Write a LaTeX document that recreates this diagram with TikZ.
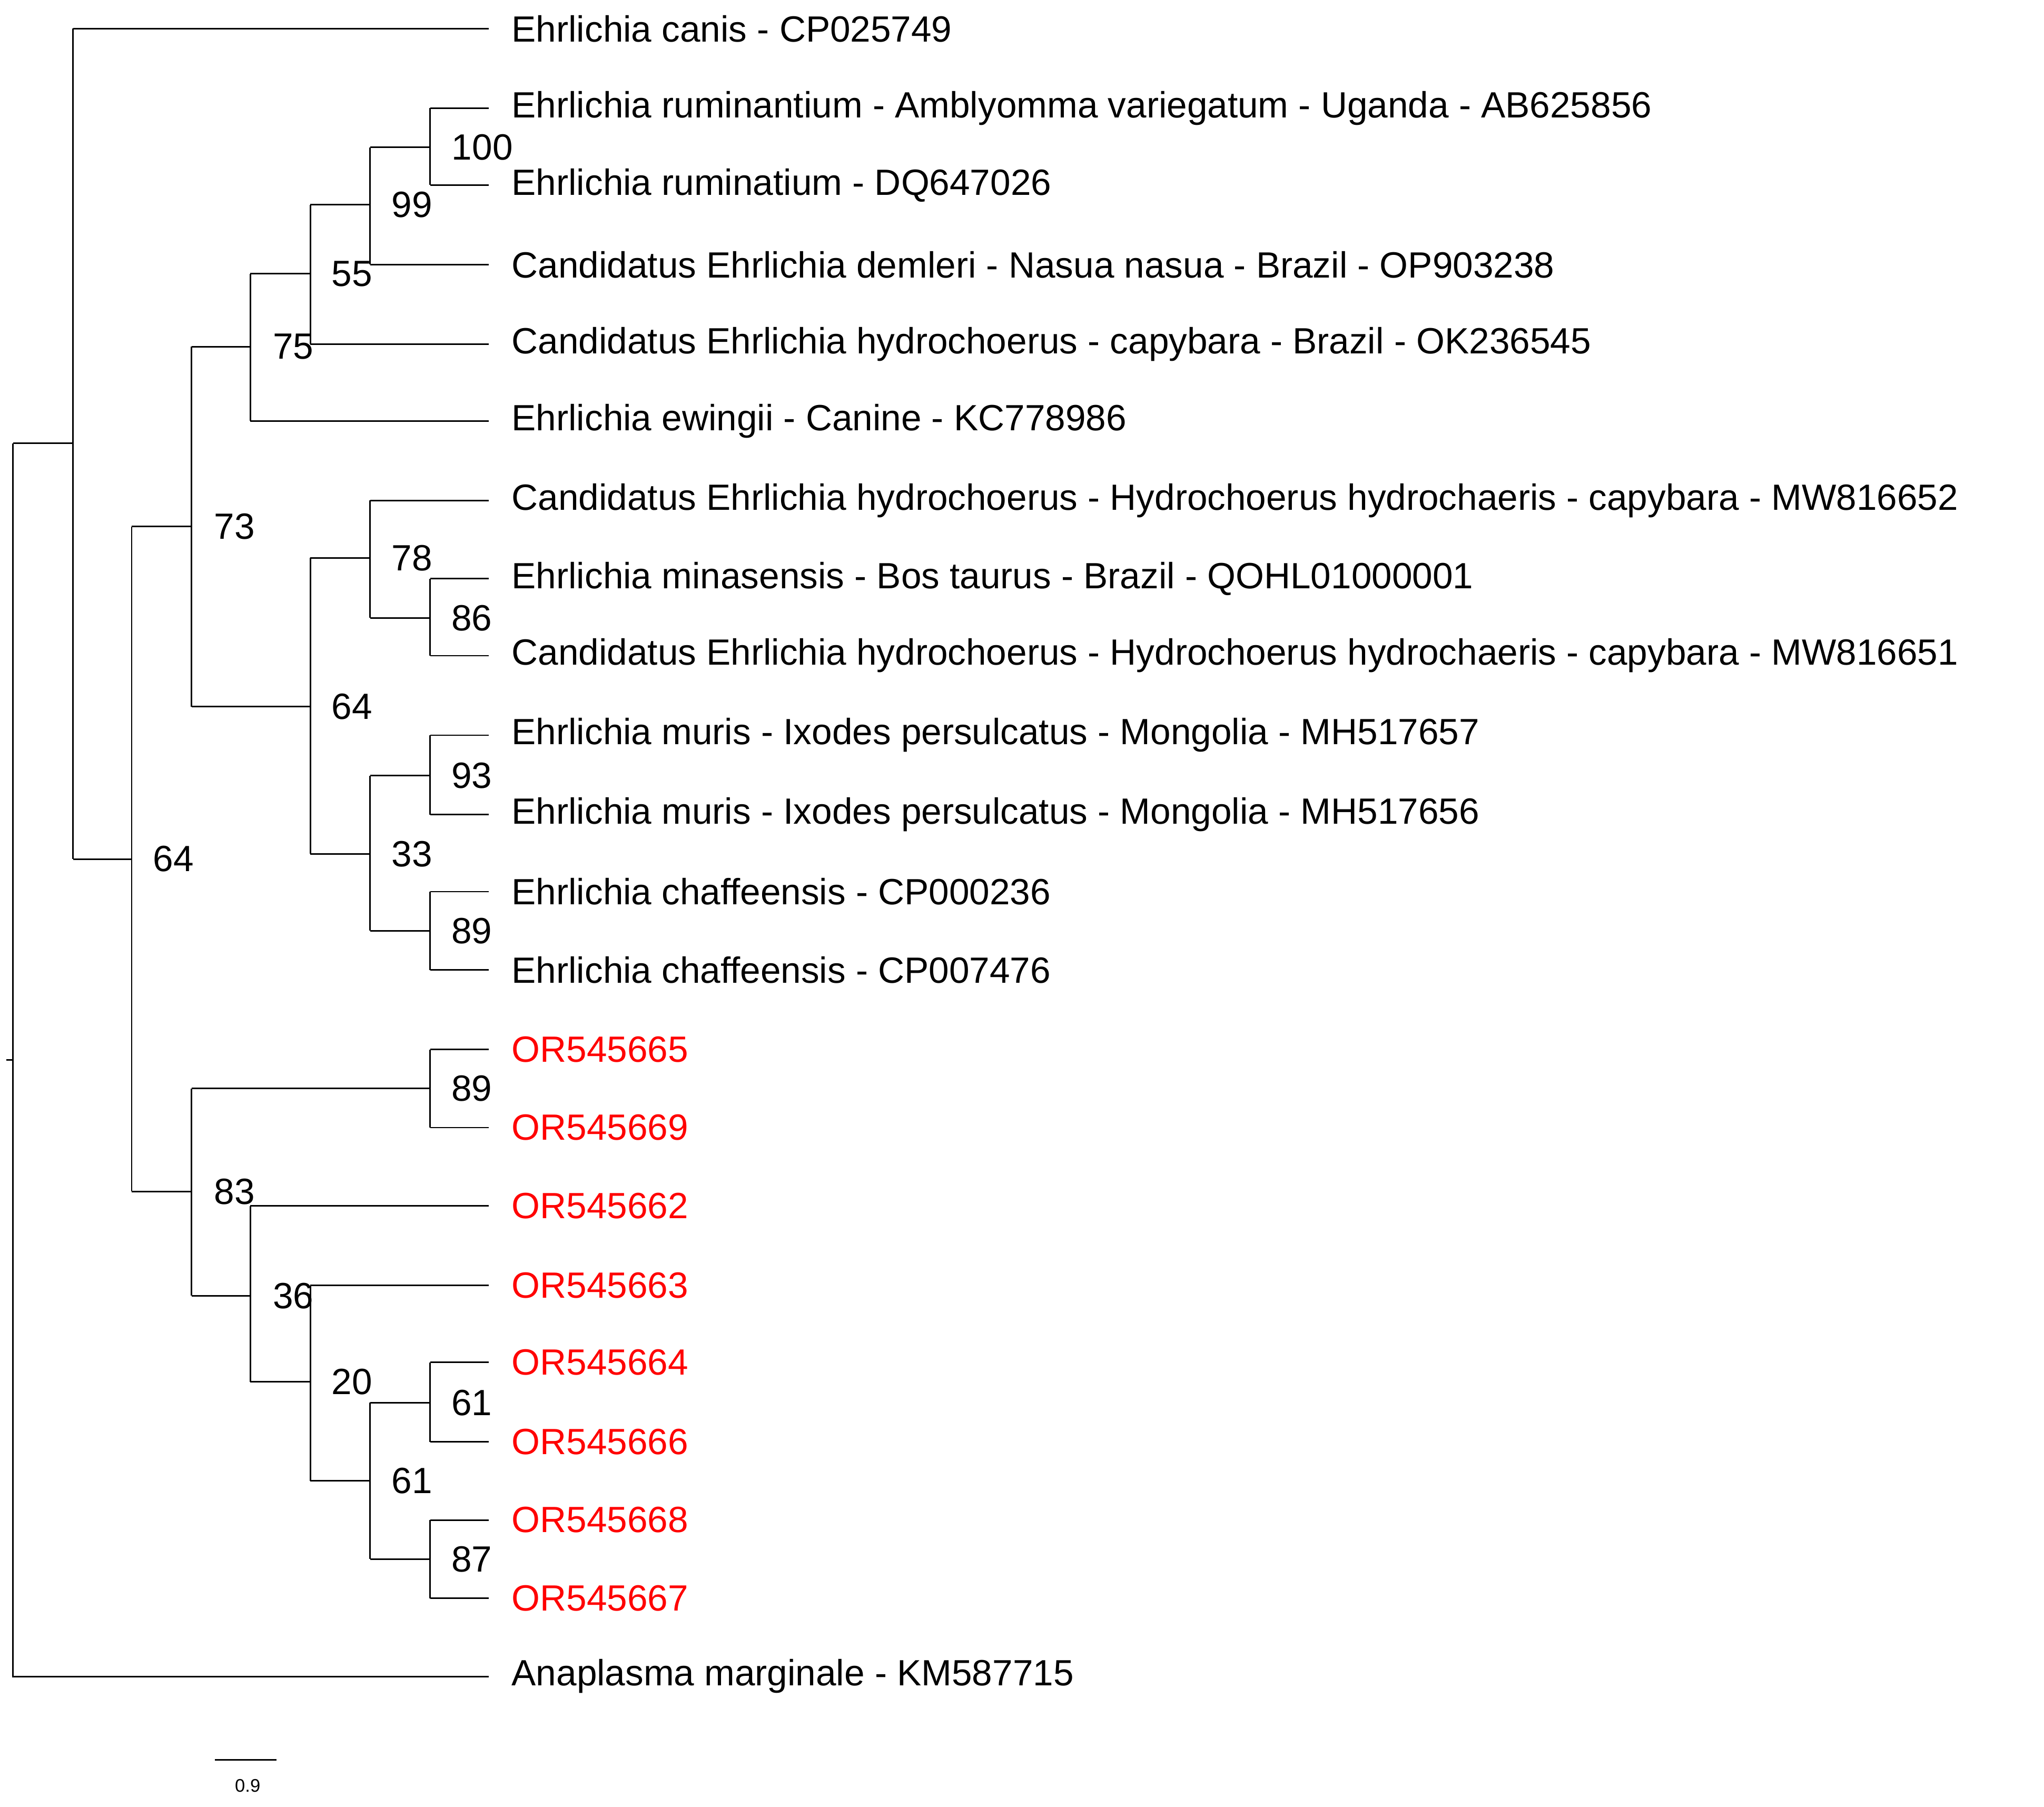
\documentclass[tikz,border=0pt]{standalone}
\usepackage{fontspec}
\setmainfont{Liberation Sans}
\begin{document}
\begin{tikzpicture}[x=0.5pt,y=-0.5pt,line width=0.6pt,
  leaf/.style={anchor=west,inner xsep=8.5pt,inner ysep=0pt,font=\fontsize{14}{16}\selectfont},
  red leaf/.style={leaf,text={rgb,255:red,255;green,0;blue,0}},
  boot/.style={font=\fontsize{14}{16}\selectfont,inner sep=0pt}]
\useasboundingbox (0,0) rectangle (1568,1386);
% leaves
\node[leaf] (l1) at (375,22) {Ehrlichia canis - CP025749};
\node[leaf] (l2) at (375,83) {Ehrlichia ruminantium - Amblyomma variegatum - Uganda - AB625856};
\node[leaf] (l3) at (375,142) {Ehrlichia ruminatium - DQ647026};
\node[leaf] (l4) at (375,203) {Candidatus Ehrlichia demleri - Nasua nasua - Brazil - OP903238};
\node[leaf] (l5) at (375,264) {Candidatus Ehrlichia hydrochoerus - capybara - Brazil - OK236545};
\node[leaf] (l6) at (375,323) {Ehrlichia ewingii - Canine - KC778986};
\node[leaf] (l7) at (375,384) {Candidatus Ehrlichia hydrochoerus - Hydrochoerus hydrochaeris - capybara - MW816652};
\node[leaf] (l8) at (375,444) {Ehrlichia minasensis - Bos taurus - Brazil - QOHL01000001};
\node[leaf] (l9) at (375,503) {Candidatus Ehrlichia hydrochoerus - Hydrochoerus hydrochaeris - capybara - MW816651};
\node[leaf] (l10) at (375,564) {Ehrlichia muris - Ixodes persulcatus - Mongolia - MH517657};
\node[leaf] (l11) at (375,625) {Ehrlichia muris - Ixodes persulcatus - Mongolia - MH517656};
\node[leaf] (l12) at (375,684) {Ehrlichia chaffeensis - CP000236};
\node[leaf] (l13) at (375,744) {Ehrlichia chaffeensis - CP007476};
\node[red leaf] (l14) at (375,805) {OR545665};
\node[red leaf] (l15) at (375,865) {OR545669};
\node[red leaf] (l16) at (375,925) {OR545662};
\node[red leaf] (l17) at (375,986) {OR545663};
\node[red leaf] (l18) at (375,1045) {OR545664};
\node[red leaf] (l19) at (375,1106) {OR545666};
\node[red leaf] (l20) at (375,1166) {OR545668};
\node[red leaf] (l21) at (375,1226) {OR545667};
\node[leaf] (l22) at (375,1286) {Anaplasma marginale - KM587715};
% internal nodes
\coordinate (root) at (10,340);
\coordinate (nA) at (56,340);
\coordinate (nB) at (101,659);
\coordinate (nC) at (147,404);
\coordinate (nD) at (147,914);
\coordinate (nE) at (192,266);
\coordinate (nF) at (238,542);
\coordinate (nG) at (238,210);
\coordinate (nH) at (284,157);
\coordinate (nI) at (330,113);
\coordinate (nJ) at (284,428);
\coordinate (nL) at (330,474);
\coordinate (nK) at (284,655);
\coordinate (nM) at (330,595);
\coordinate (nN) at (330,714);
\coordinate (nO) at (330,835);
\coordinate (nP) at (192,994);
\coordinate (nQ) at (238,1060);
\coordinate (nR) at (284,1136);
\coordinate (nS) at (330,1076);
\coordinate (nT) at (330,1196);
% root
\draw (root |- nA) -- (root |- l22) -- (l22.west);
\draw (root) -- (nA);
\draw (5,813) -- (10,813);
% helper: vertical + horizontals
\draw (nA |- l1) -- (nA |- nB); \draw (nA |- l1) -- (l1.west); \draw (nA |- nB) -- (nB);
\draw (nB |- nC) -- (nB |- nD); \draw (nB |- nC) -- (nC); \draw (nB |- nD) -- (nD);
\draw (nC |- nE) -- (nC |- nF); \draw (nC |- nE) -- (nE); \draw (nC |- nF) -- (nF);
\draw (nE |- nG) -- (nE |- l6); \draw (nE |- nG) -- (nG); \draw (nE |- l6) -- (l6.west);
\draw (nG |- nH) -- (nG |- l5); \draw (nG |- nH) -- (nH); \draw (nG |- l5) -- (l5.west);
\draw (nH |- nI) -- (nH |- l4); \draw (nH |- nI) -- (nI); \draw (nH |- l4) -- (l4.west);
\draw (nI |- l2) -- (nI |- l3); \draw (nI |- l2) -- (l2.west); \draw (nI |- l3) -- (l3.west);
\draw (nF |- nJ) -- (nF |- nK); \draw (nF |- nJ) -- (nJ); \draw (nF |- nK) -- (nK);
\draw (nJ |- l7) -- (nJ |- nL); \draw (nJ |- l7) -- (l7.west); \draw (nJ |- nL) -- (nL);
\draw (nL |- l8) -- (nL |- l9); \draw (nL |- l8) -- (l8.west); \draw (nL |- l9) -- (l9.west);
\draw (nK |- nM) -- (nK |- nN); \draw (nK |- nM) -- (nM); \draw (nK |- nN) -- (nN);
\draw (nM |- l10) -- (nM |- l11); \draw (nM |- l10) -- (l10.west); \draw (nM |- l11) -- (l11.west);
\draw (nN |- l12) -- (nN |- l13); \draw (nN |- l12) -- (l12.west); \draw (nN |- l13) -- (l13.west);
\draw (nD |- nO) -- (nD |- nP); \draw (nD |- nO) -- (nO); \draw (nD |- nP) -- (nP);
\draw (nO |- l14) -- (nO |- l15); \draw (nO |- l14) -- (l14.west); \draw (nO |- l15) -- (l15.west);
\draw (nP |- l16) -- (nP |- nQ); \draw (nP |- l16) -- (l16.west); \draw (nP |- nQ) -- (nQ);
\draw (nQ |- l17) -- (nQ |- nR); \draw (nQ |- l17) -- (l17.west); \draw (nQ |- nR) -- (nR);
\draw (nR |- nS) -- (nR |- nT); \draw (nR |- nS) -- (nS); \draw (nR |- nT) -- (nT);
\draw (nS |- l18) -- (nS |- l19); \draw (nS |- l18) -- (l18.west); \draw (nS |- l19) -- (l19.west);
\draw (nT |- l20) -- (nT |- l21); \draw (nT |- l20) -- (l20.west); \draw (nT |- l21) -- (l21.west);
% bootstrap labels
\node[boot] (b1) at (133,659) {64};
\node[boot] (b2) at (180,404) {73};
\node[boot] (b3) at (225,266) {75};
\node[boot] (b4) at (270,210) {55};
\node[boot] (b5) at (316,157) {99};
\node[boot] (b6) at (370,113) {100};
\node[boot] (b7) at (270,542) {64};
\node[boot] (b8) at (316,428) {78};
\node[boot] (b9) at (362,474) {86};
\node[boot] (b10) at (316,655) {33};
\node[boot] (b11) at (362,595) {93};
\node[boot] (b12) at (362,714) {89};
\node[boot] (b13) at (180,914) {83};
\node[boot] (b14) at (362,835) {89};
\node[boot] (b15) at (225,994) {36};
\node[boot] (b16) at (270,1060) {20};
\node[boot] (b17) at (316,1136) {61};
\node[boot] (b18) at (362,1076) {61};
\node[boot] (b19) at (362,1196) {87};
% scale bar
\coordinate (s1) at (165,1350); \coordinate (s2) at (212,1350);
\draw (s1) -- (s2);
\node[font=\fontsize{7}{8}\selectfont,inner sep=0pt] (sl) at (190,1370) {0.9};
\end{tikzpicture}
\end{document}
